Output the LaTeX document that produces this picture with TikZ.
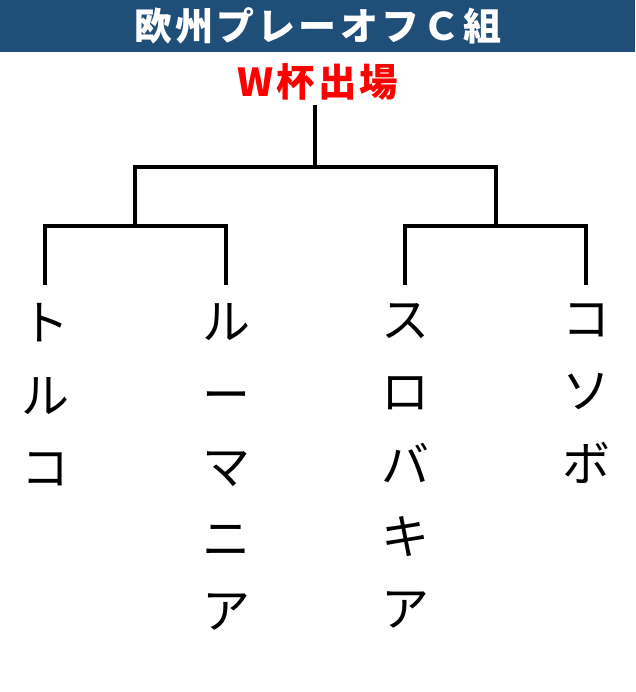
\documentclass[tikz,border=0pt]{standalone}
\usepackage{fontspec}
\newfontfamily\jp{Noto Sans CJK JP}
\newfontfamily\jptitle{Noto Sans CJK JP}[LetterSpace=8]
\newfontfamily\jpwin{Noto Sans CJK JP}[LetterSpace=8]
\definecolor{titleblue}{HTML}{1F4E79}
\definecolor{winred}{HTML}{FF0000}
\begin{document}
\begin{tikzpicture}[x=1pt,y=-1pt,
  bracket/.style={line width=3.2pt, line join=miter, black},
  titletext/.style={font=\jptitle\bfseries\fontsize{38}{40}\selectfont, text=white, inner sep=0pt},
  wintext/.style={font=\jpwin\bfseries\fontsize{38.5}{40}\selectfont, text=winred, inner xsep=0pt, inner ysep=4.5pt},
  team/.style={font=\jp\fontsize{48}{72.3}\selectfont, align=center, anchor=north, inner xsep=0pt, inner ysep=18.5pt}]
\useasboundingbox (0,0) rectangle (635,692);
\fill[titleblue] (0,0) rectangle (635,52);
\node[titletext] (title) at (318,26) {欧州プレーオフＣ組};
\node[wintext] (win) at (318,82) {W杯出場};
\coordinate (j0) at (315,167);
\coordinate (a1) at (135,226);
\coordinate (a2) at (496,226);
\node[team] (tr) at (45,285) {ト\\ル\\コ};
\node[team] (ru) at (226,285) {ル\\ー\\マ\\ニ\\ア};
\node[team] (sl) at (405,285) {ス\\ロ\\バ\\キ\\ア};
\node[team] (ko) at (586,285) {コ\\ソ\\ボ};
\draw[bracket] (j0 |- win.south) -- (j0);
\draw[bracket] (a1) |- (j0) -| (a2);
\draw[bracket] (tr.north) |- (a1) -| (ru.north);
\draw[bracket] (sl.north) |- (a2) -| (ko.north);
\end{tikzpicture}
\end{document}
